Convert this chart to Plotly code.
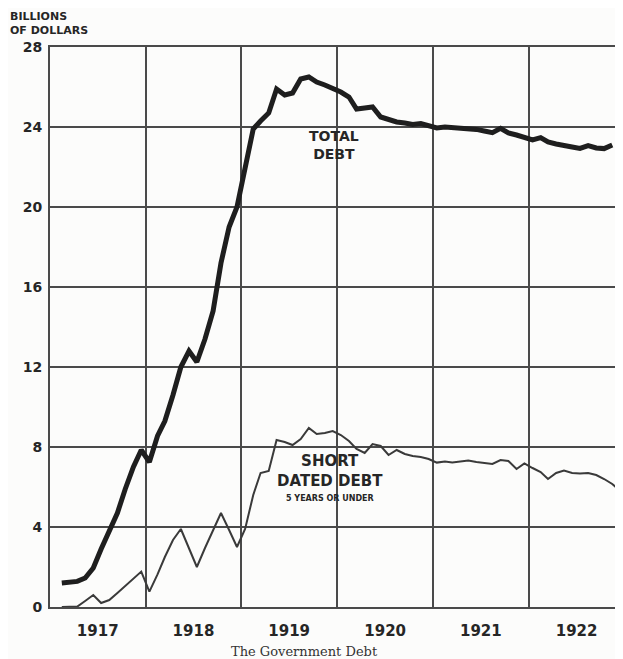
import plotly.graph_objects as go

# ---- data (billions of dollars, monthly, index 0 = Jan 1917) ----
total_start = 1
total_debt = [1.2, 1.22, 1.28, 1.45, 1.95, 2.9, 3.75, 4.7, 5.9, 7.0, 7.85,
              7.25, 8.55, 9.3, 10.6, 12.0, 12.8, 12.25, 13.4, 14.8, 17.2,
              19.0, 20.0, 22.1, 23.9, 24.3, 24.7, 25.9, 25.6, 25.7, 26.4,
              26.5, 26.25, 26.1, 25.95, 25.75, 25.5, 24.9, 24.95, 25.0, 24.5,
              24.35, 24.25, 24.2, 24.13, 24.17, 24.05, 23.95, 24.0, 23.98,
              23.95, 23.92, 23.88, 23.8, 23.72, 23.93, 23.7, 23.6, 23.48,
              23.35, 23.47, 23.25, 23.15, 23.1, 23.0, 22.93, 23.07, 22.95,
              22.92, 23.1]

short_start = 1
short_debt = [0.0, 0.0, 0.02, 0.3, 0.6, 0.2, 0.35, 0.7, 1.05, 1.4, 1.77,
              0.77, 1.63, 2.5, 3.35, 3.9, 2.9, 2.0, 2.95, 3.8, 4.7, 3.85,
              3.0, 3.9, 5.6, 6.7, 6.8, 8.35, 8.25, 8.1, 8.4, 8.95, 8.65,
              8.7, 8.8, 8.6, 8.3, 7.9, 7.7, 8.15, 8.05, 7.6, 7.85, 7.65,
              7.55, 7.5, 7.4, 7.22, 7.27, 7.22, 7.28, 7.32, 7.25, 7.2, 7.15,
              7.35, 7.3, 6.9, 7.18, 6.95, 6.75, 6.4, 6.7, 6.82, 6.7, 6.68,
              6.7, 6.6, 6.4, 6.15, 5.8]

years = [1917, 1918, 1919, 1920, 1921, 1922]
y_ticks = [0, 4, 8, 12, 16, 20, 24, 28]


def month_dates(start, n):
    out = []
    for k in range(start, start + n):
        out.append(f"{1917 + k // 12}-{k % 12 + 1:02d}-15")
    return out


ink = "#262626"
grid = "#4a4a4a"

fig = go.Figure()
fig.add_trace(go.Scatter(
    x=month_dates(short_start, len(short_debt)), y=short_debt,
    mode="lines", line=dict(color="#3a3a3a", width=2), showlegend=False))
fig.add_trace(go.Scatter(
    x=month_dates(total_start, len(total_debt)), y=total_debt,
    mode="lines", line=dict(color="#1e1e1e", width=5), showlegend=False))

fig.update_layout(
    width=615, height=651,
    margin=dict(l=42, r=0, t=39, b=52),
    paper_bgcolor="#fcfcfb", plot_bgcolor="#fcfcfb",
    font=dict(family="DejaVu Sans", color=ink),
    xaxis=dict(
        type="date",
        range=["1917-01-01", "1922-12-26"],
        tickmode="array",
        tickvals=[f"{y}-07-02" for y in years],
        ticktext=[f"<b>{y}</b>" for y in years],
        tickfont=dict(size=15, family="DejaVu Sans", color=ink),
        ticks="outside", ticklen=9, tickcolor="rgba(0,0,0,0)",
        showgrid=False,
        showline=True, linecolor=grid, linewidth=2, mirror=True,
        minor=dict(tickmode="array",
                   tickvals=[f"{y}-01-01" for y in years[1:]],
                   showgrid=True, gridcolor=grid, gridwidth=1.6, ticks=""),
        zeroline=False, fixedrange=True, automargin=False,
    ),
    yaxis=dict(
        range=[0, 28],
        tickmode="array",
        tickvals=y_ticks,
        ticktext=[f"<b>{v}</b>" for v in y_ticks],
        tickfont=dict(size=14, family="DejaVu Sans", color=ink),
        ticks="outside", ticklen=3, tickcolor="rgba(0,0,0,0)",
        showgrid=True, gridcolor=grid, gridwidth=1.6,
        showline=True, linecolor=grid, linewidth=2,
        zeroline=False, fixedrange=True, automargin=False,
    ),
    annotations=[
        dict(text="<b>BILLIONS<br>OF DOLLARS</b>", xref="paper", yref="paper",
             x=-0.0733, y=1.07, xanchor="left", yanchor="top", align="left",
             showarrow=False, font=dict(size=11, color=ink)),
        dict(text="<b>TOTAL<br>DEBT</b>", xref="paper", yref="paper",
             x=0.4956, y=0.825, xanchor="center", yanchor="middle",
             showarrow=False, font=dict(size=14, color=ink)),
        dict(text="<b>SHORT<br>DATED DEBT</b>", xref="paper", yref="paper",
             x=0.489, y=0.243, xanchor="center", yanchor="middle",
             showarrow=False, font=dict(size=15, color=ink)),
        dict(text="<b>5 YEARS OR UNDER</b>", xref="paper", yref="paper",
             x=0.489, y=0.193, xanchor="center", yanchor="middle",
             showarrow=False, font=dict(size=8, color=ink)),
        dict(text="The Government Debt", xref="paper", yref="paper",
             x=0.445, y=-0.08, xanchor="center", yanchor="middle",
             showarrow=False,
             font=dict(size=13, family="DejaVu Serif", color="#333")),
    ],
)

fig.write_html("out.html")
